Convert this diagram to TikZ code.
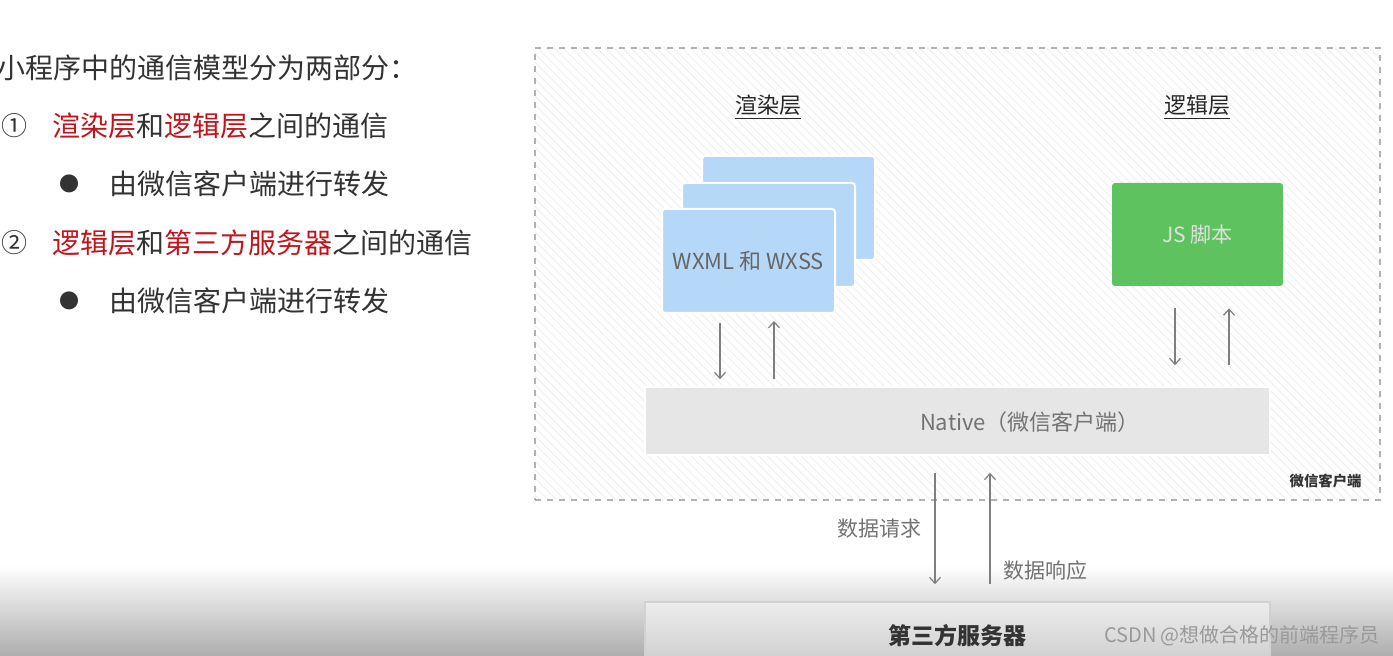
\documentclass[tikz,border=0pt]{standalone}
\usepackage{fontspec}
\setmainfont{Noto Sans CJK SC}
\usepackage{tikz}
\usetikzlibrary{positioning,arrows.meta,calc,patterns.meta}
\usepackage{xcolor}

\definecolor{textgray}{HTML}{333333}
\definecolor{hlred}{HTML}{C0151D}
\definecolor{cardblue}{HTML}{B5D7F8}
\definecolor{jsgreen}{HTML}{5EC35E}
\definecolor{nativegray}{HTML}{E6E6E6}
\definecolor{arrowgray}{HTML}{7F7F7F}

\begin{document}
\begin{tikzpicture}[
        x=0.5pt,
        y=-0.5pt,
        >={Straight Barb[length=3pt,width=5.5pt]},
        txt/.style={
            anchor=west,
            inner sep=0,
            text=textgray,
            font=\fontsize{14}{16}\selectfont
        },
        card/.style={
            rectangle,
            fill=cardblue,
            draw=white,
            line width=1pt,
            rounded corners=1.5pt,
            minimum width=86.5pt,
            minimum height=52pt
        },
        title/.style={
            text=black!85,
            font=\fontsize{11}{13}\selectfont
        },
        label/.style={
            text=arrowgray!90!black,
            font=\fontsize{10.5}{12}\selectfont
        },
        line/.style={->, draw=arrowgray, line width=0.6pt}
    ]

    \clip (0,0) rectangle (1393,656);
    \fill[white] (0,0) rectangle (1393,656);

    % LEFT: TEXT LIST
    \node[txt] (head) at (-3,68) {小程序中的通信模型分为两部分：};
    \node[txt, font=\fontsize{13}{15}\selectfont] (num1) at (1,126) {①};
    \node[txt] (item1) at (52,126) {\textcolor{hlred}{渲染层}和\textcolor{hlred}{逻辑层}之间的通信};
    \node[txt, anchor=center, font=\fontsize{10}{12}\selectfont] (dot1) at (69,184) {●};
    \node[txt] (sub1) at (109,184) {由微信客户端进行转发};
    \node[txt, font=\fontsize{13}{15}\selectfont] (num2) at (1,243) {②};
    \node[txt] (item2) at (52,243) {\textcolor{hlred}{逻辑层}和\textcolor{hlred}{第三方服务器}之间的通信};
    \node[txt, anchor=center, font=\fontsize{10}{12}\selectfont] (dot2) at (69,301) {●};
    \node[txt] (sub2) at (109,301) {由微信客户端进行转发};

    % RIGHT: WECHAT CLIENT FRAME
    \node[rectangle, draw=black!30, dashed, line width=0.6pt,
          pattern={Lines[angle=-45,distance=3pt,line width=0.5pt]}, pattern color=black!6,
          minimum width=422.5pt, minimum height=226pt] (client) at (957.5,274) {};
    \node[anchor=south east, inner sep=0, text=textgray, font=\bfseries\fontsize{7.2}{8}\selectfont]
        (clientname) at (1362,488) {微信客户端};

    % RENDER LAYER
    \node[title] (render) at (768,107) {\underline{渲染层}};
    \node[card] (back) at (788.5,208) {};
    \node[card] (mid) at ($(back)+(-20,27)$) {};
    \node[card, text=black!60, font=\fontsize{11}{13}\selectfont] (front) at ($(mid)+(-20,26)$) {WXML 和 WXSS};

    % LOGIC LAYER
    \node[title] (logic) at (1197,107) {\underline{逻辑层}};
    \node[rectangle, fill=jsgreen, rounded corners=1.5pt, minimum width=85.5pt, minimum height=51.5pt,
          text=black!12, font=\fontsize{10.5}{12}\selectfont] (js) at (1197.5,234.5) {JS 脚本};

    % NATIVE BAR
    \node[rectangle, fill=nativegray, draw=white, line width=0.8pt,
          minimum width=312.5pt, minimum height=34pt] (native) at (957.5,421) {};
    \node[text=black!55, font=\fontsize{11}{13}\selectfont] (nativetxt) at (1030,422) {Native（微信客户端）};

    % BOTTOM: SHADE AND SERVER
    \shade[top color=white, bottom color=black!32] (0,565) rectangle (1393,656);
    \node[rectangle, fill=white, fill opacity=0.45, draw=black!18, line width=0.8pt,
          minimum width=312.5pt, minimum height=34pt] (server) at (957.5,636) {};
    \node[text=textgray, font=\bfseries\fontsize{11.5}{13}\selectfont] (servertxt) at (957,636) {第三方服务器};
    \node[text=black!40, font=\fontsize{10}{12}\selectfont] (mark) at (1242,636) {CSDN @想做合格的前端程序员};

    % ============================================================
    % CONNECTIONS: Render layer <-> Native
    % ============================================================
    \draw[line, shorten <=4.5pt, shorten >=3.5pt] ([xshift=-14.25pt]front.south) -- ([xshift=-14.25pt]front.south |- native.north);
    \draw[line, shorten <=3.5pt, shorten >=3.5pt] ([xshift=12.75pt]front.south |- native.north) -- ([xshift=12.75pt]front.south);

    % ============================================================
    % CONNECTIONS: Logic layer <-> Native
    % ============================================================
    \draw[line, shorten <=11pt, shorten >=10.5pt] ([xshift=-11.25pt]js.south) -- ([xshift=-11.25pt]js.south |- native.north);
    \draw[line, shorten <=10.5pt, shorten >=11pt] ([xshift=15.75pt]js.south |- native.north) -- ([xshift=15.75pt]js.south);

    % ============================================================
    % CONNECTIONS: Native <-> Server
    % ============================================================
    \draw[line, shorten <=8.5pt, shorten >=8.5pt] ([xshift=-11.25pt]native.south) -- ([xshift=-11.25pt]native.south |- server.north)
        node[label, midway, left=3pt] {数据请求};
    \draw[line, shorten <=8.5pt, shorten >=8.5pt] ([xshift=16.25pt]native.south |- server.north) -- ([xshift=16.25pt]native.south)
        node[label, pos=0.21, right=3pt] {数据响应};

\end{tikzpicture}
\end{document}
